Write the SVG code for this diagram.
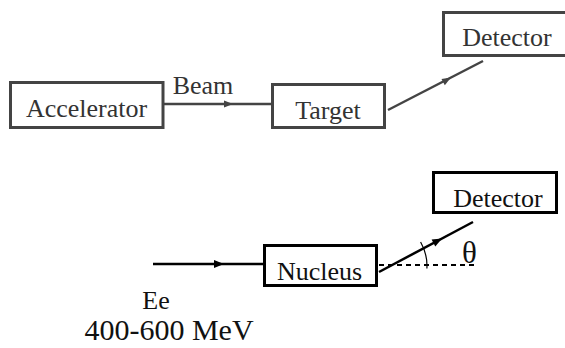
<svg xmlns="http://www.w3.org/2000/svg" width="565" height="348" viewBox="0 0 565 348">
<style>
text{font-family:"Liberation Serif","Times New Roman",serif;font-size:26px;fill:#111;text-anchor:middle}
.top rect{fill:#fff;stroke:#444;stroke-width:3}
.top text{fill:#333}
.bot rect{fill:#fff;stroke:#000;stroke-width:3}
.lt{stroke:#444;stroke-width:2.5;fill:none}
.lb{stroke:#000;stroke-width:2.5;fill:none}
.ah{fill:#444}
.ahb{fill:#000}
</style>
<g id="accelerator" class="top">
<rect x="10.5" y="82.5" width="152.5" height="45"/>
<text x="86.5" y="117">Accelerator</text>
</g>
<g id="target" class="top">
<rect x="272.5" y="84.5" width="112" height="43"/>
<text x="328" y="119">Target</text>
</g>
<g id="detector-top" class="top">
<rect x="443.5" y="12.5" width="130" height="43"/>
<text x="507" y="46">Detector</text>
</g>
<g id="nucleus" class="bot">
<rect x="264.5" y="245.5" width="112" height="40"/>
<text x="319.5" y="280">Nucleus</text>
</g>
<g id="detector-bottom" class="bot">
<rect x="433.5" y="172.5" width="123" height="40"/>
<text x="498" y="207">Detector</text>
</g>
<g id="connectors">
<line class="lt" x1="163" y1="104" x2="272" y2="104"/>
<polygon class="ah" points="233,104 224,100.5 224,107.5"/>
<text x="203" y="94" style="fill:#333">Beam</text>
<line class="lt" x1="388" y1="110" x2="483" y2="61"/>
<polygon class="ah" points="451,77.5 441.5,79 444.8,85.2"/>
<line class="lb" x1="153" y1="264" x2="264" y2="264"/>
<polygon class="ahb" points="224,264 214,260 214,268"/>
<line class="lb" x1="379" y1="272" x2="473" y2="222"/>
<polygon class="ahb" points="442,238.5 431.6,239.6 435.3,246.5"/>
<line x1="379" y1="265" x2="478" y2="265" stroke="#000" stroke-width="1.8" stroke-dasharray="5,4"/>
<path d="M420.6,242 A48,48 0 0 1 426.9,268.5" fill="none" stroke="#000" stroke-width="1.2"/>
<text x="469.5" y="263" style="font-size:31px">θ</text>
<text x="156" y="309">Ee</text>
<text x="169" y="340" style="font-size:30px">400-600 MeV</text>
</g>
</svg>
